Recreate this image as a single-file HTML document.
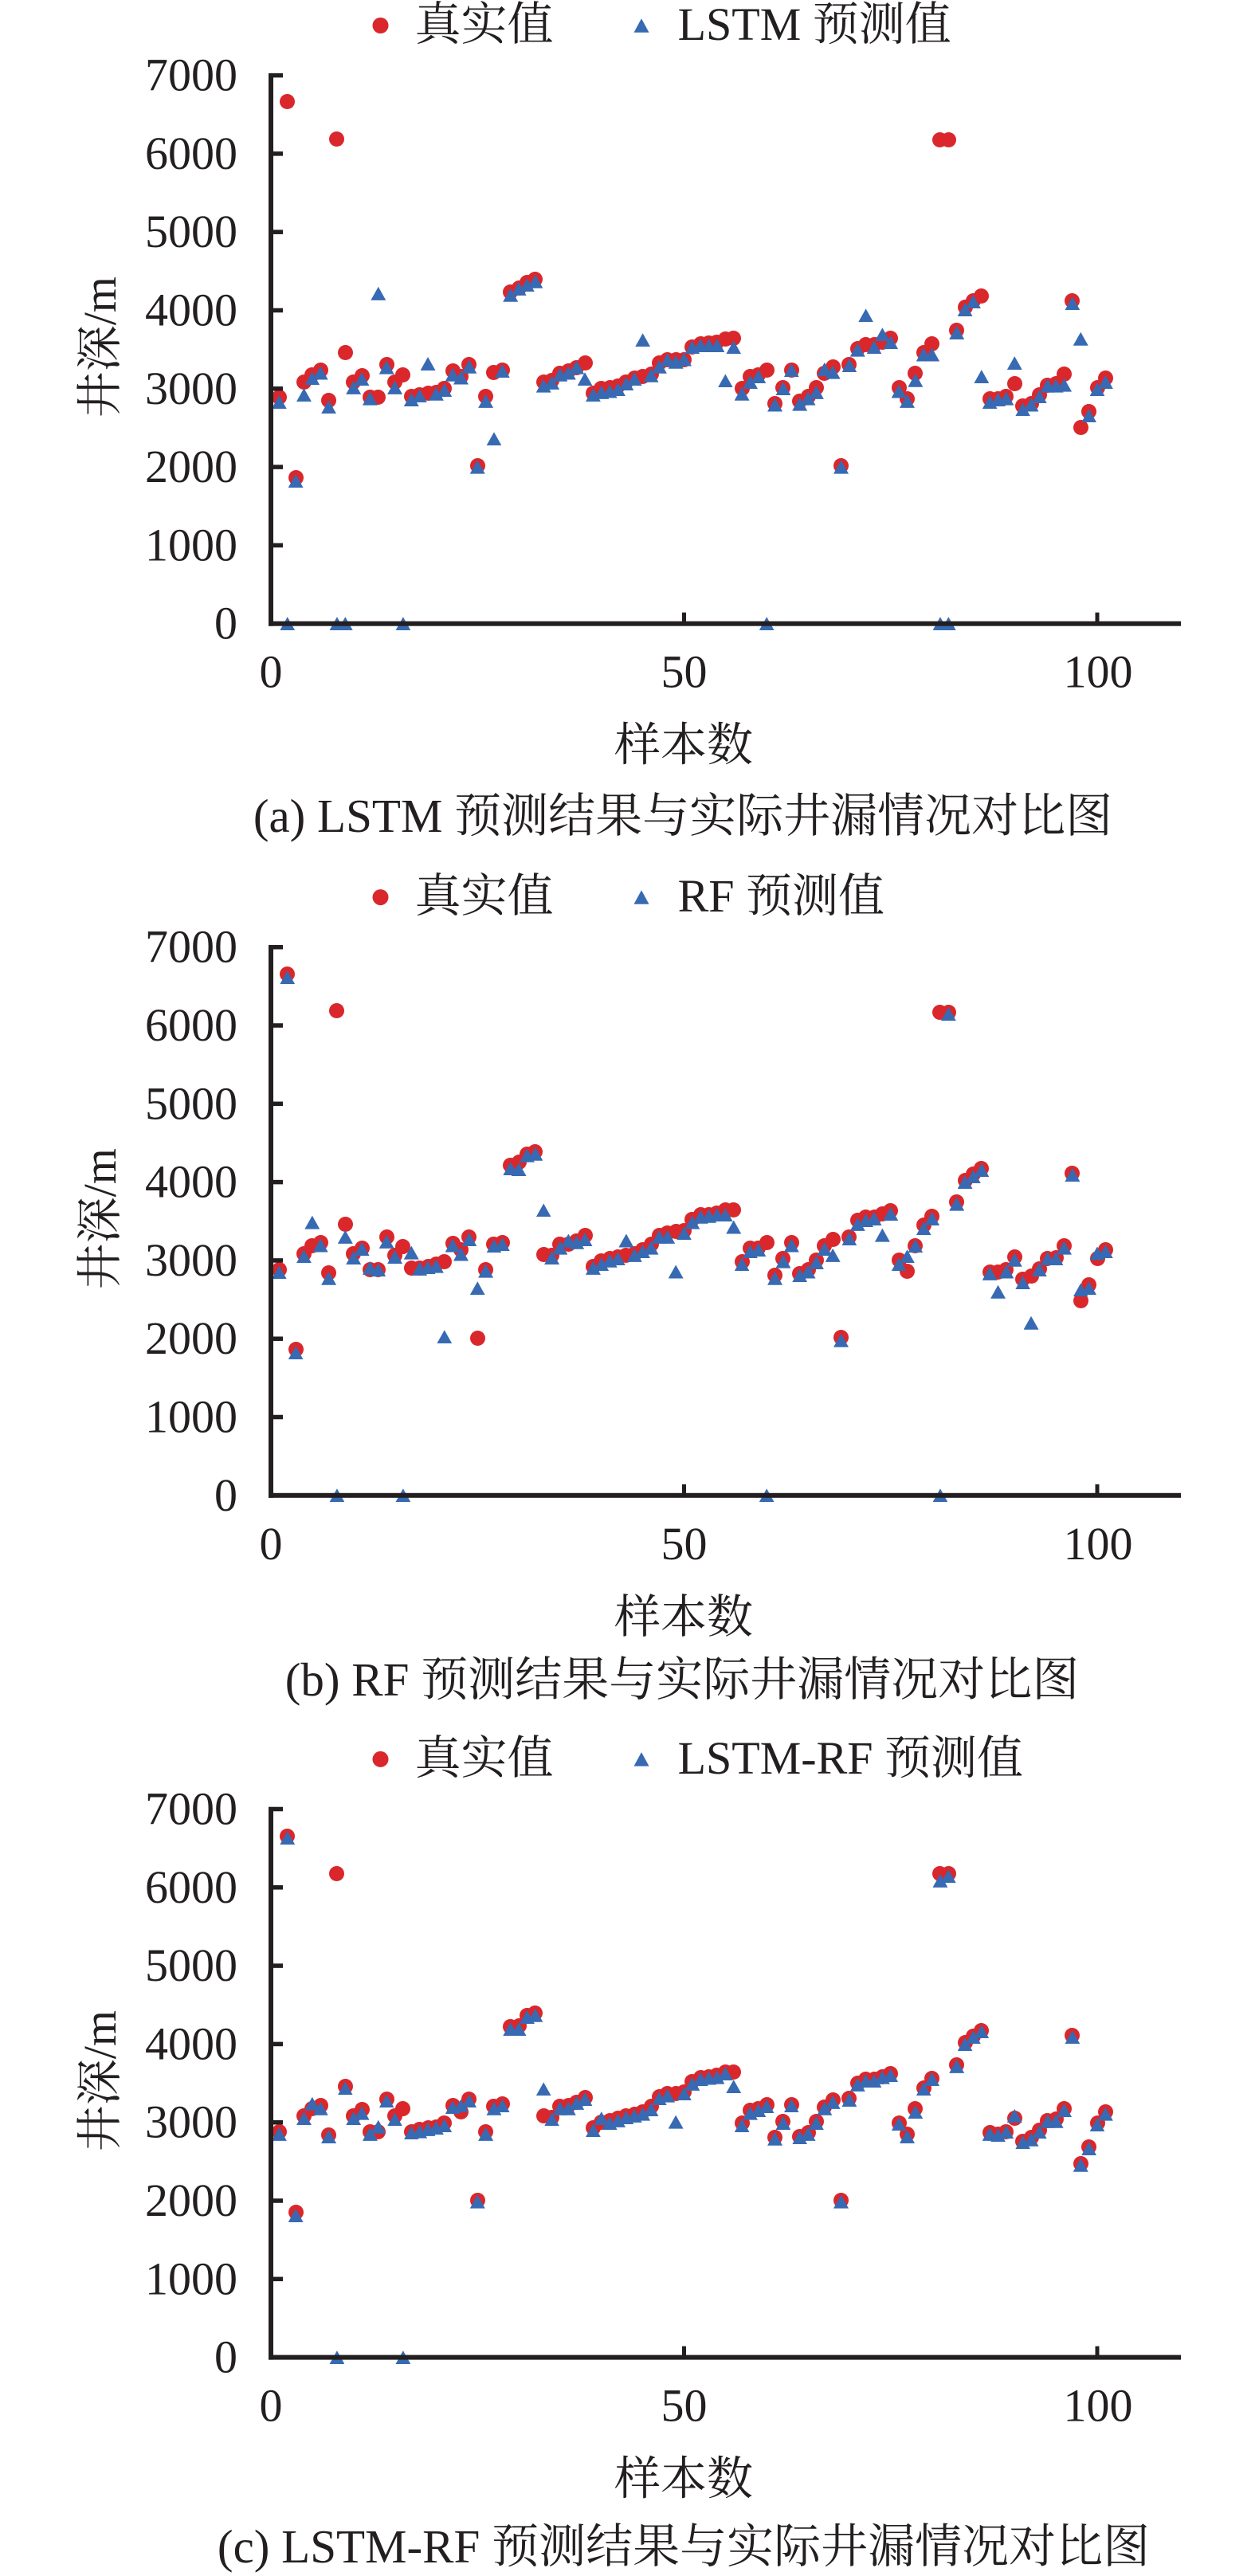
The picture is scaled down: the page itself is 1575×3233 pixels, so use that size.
<!DOCTYPE html>
<html><head><meta charset="utf-8">
<style>
html,body{margin:0;padding:0;background:#fff}
#w{position:relative;width:1575px;height:3233px;overflow:hidden;background:#fff}
.s{position:absolute;left:0;top:0;width:1575px;height:3233px}
.s i{position:absolute;display:block;left:calc(330.5px + var(--i) * 10.37px);top:calc(var(--y) - var(--v) * 0.0983px - 9.5px);width:19px;height:19px}
.r i{background:#d9272c;border-radius:50%}
.b i{background:#376ab3;clip-path:polygon(50% 0,100% 100%,0 100%);height:17px;top:calc(var(--y) - var(--v) * 0.0983px - 8.5px)}
svg{position:absolute;left:0;top:0}
</style></head><body><div id="w">

<div class="s r" style="--y:782.7px">
<i style="--i:1;--v:2888"></i><i style="--i:2;--v:6668"></i><i style="--i:3;--v:1860"></i><i style="--i:4;--v:3084"></i><i style="--i:5;--v:3178"></i><i style="--i:6;--v:3234"></i><i style="--i:7;--v:2850"></i><i style="--i:8;--v:6192"></i><i style="--i:9;--v:3458"></i><i style="--i:10;--v:3084"></i><i style="--i:11;--v:3164"></i><i style="--i:12;--v:2888"></i><i style="--i:13;--v:2888"></i><i style="--i:14;--v:3308"></i><i style="--i:15;--v:3084"></i><i style="--i:16;--v:3178"></i><i style="--i:17;--v:2897"></i><i style="--i:18;--v:2920"></i><i style="--i:19;--v:2944"></i><i style="--i:20;--v:2953"></i><i style="--i:21;--v:3000"></i><i style="--i:22;--v:3224"></i><i style="--i:23;--v:3154"></i><i style="--i:24;--v:3308"></i><i style="--i:25;--v:2019"></i><i style="--i:26;--v:2897"></i><i style="--i:27;--v:3210"></i><i style="--i:28;--v:3234"></i><i style="--i:29;--v:4229"></i><i style="--i:30;--v:4285"></i><i style="--i:31;--v:4360"></i><i style="--i:32;--v:4393"></i><i style="--i:33;--v:3084"></i><i style="--i:34;--v:3107"></i><i style="--i:35;--v:3201"></i><i style="--i:36;--v:3224"></i><i style="--i:37;--v:3271"></i><i style="--i:38;--v:3327"></i><i style="--i:39;--v:2944"></i><i style="--i:40;--v:3000"></i><i style="--i:41;--v:3014"></i><i style="--i:42;--v:3037"></i><i style="--i:43;--v:3084"></i><i style="--i:44;--v:3131"></i><i style="--i:45;--v:3154"></i><i style="--i:46;--v:3187"></i><i style="--i:47;--v:3327"></i><i style="--i:48;--v:3374"></i><i style="--i:49;--v:3365"></i><i style="--i:50;--v:3374"></i><i style="--i:51;--v:3528"></i><i style="--i:52;--v:3575"></i><i style="--i:53;--v:3584"></i><i style="--i:54;--v:3589"></i><i style="--i:55;--v:3636"></i><i style="--i:56;--v:3645"></i><i style="--i:57;--v:3000"></i><i style="--i:58;--v:3154"></i><i style="--i:59;--v:3178"></i><i style="--i:60;--v:3234"></i><i style="--i:61;--v:2813"></i><i style="--i:62;--v:3014"></i><i style="--i:63;--v:3234"></i><i style="--i:64;--v:2841"></i><i style="--i:65;--v:2897"></i><i style="--i:66;--v:3014"></i><i style="--i:67;--v:3201"></i><i style="--i:68;--v:3280"></i><i style="--i:69;--v:2019"></i><i style="--i:70;--v:3308"></i><i style="--i:71;--v:3514"></i><i style="--i:72;--v:3561"></i><i style="--i:73;--v:3561"></i><i style="--i:74;--v:3598"></i><i style="--i:75;--v:3645"></i><i style="--i:76;--v:3014"></i><i style="--i:77;--v:2874"></i><i style="--i:78;--v:3201"></i><i style="--i:79;--v:3458"></i><i style="--i:80;--v:3575"></i><i style="--i:81;--v:6182"></i><i style="--i:82;--v:6182"></i><i style="--i:83;--v:3748"></i><i style="--i:84;--v:4042"></i><i style="--i:85;--v:4122"></i><i style="--i:86;--v:4182"></i><i style="--i:87;--v:2874"></i><i style="--i:88;--v:2874"></i><i style="--i:89;--v:2897"></i><i style="--i:90;--v:3061"></i><i style="--i:91;--v:2780"></i><i style="--i:92;--v:2813"></i><i style="--i:93;--v:2920"></i><i style="--i:94;--v:3047"></i><i style="--i:95;--v:3061"></i><i style="--i:96;--v:3187"></i><i style="--i:97;--v:4122"></i><i style="--i:98;--v:2500"></i><i style="--i:99;--v:2710"></i><i style="--i:100;--v:3014"></i><i style="--i:101;--v:3140"></i>
</div>
<div class="s b" style="--y:782.7px">
<i style="--i:1;--v:2827"></i><i style="--i:2;--v:0"></i><i style="--i:3;--v:1822"></i><i style="--i:4;--v:2920"></i><i style="--i:5;--v:3131"></i><i style="--i:6;--v:3201"></i><i style="--i:7;--v:2766"></i><i style="--i:8;--v:0"></i><i style="--i:9;--v:0"></i><i style="--i:10;--v:3014"></i><i style="--i:11;--v:3122"></i><i style="--i:12;--v:2874"></i><i style="--i:13;--v:4215"></i><i style="--i:14;--v:3271"></i><i style="--i:15;--v:3014"></i><i style="--i:16;--v:0"></i><i style="--i:17;--v:2860"></i><i style="--i:18;--v:2907"></i><i style="--i:19;--v:3318"></i><i style="--i:20;--v:2935"></i><i style="--i:21;--v:2981"></i><i style="--i:22;--v:3178"></i><i style="--i:23;--v:3140"></i><i style="--i:24;--v:3280"></i><i style="--i:25;--v:2000"></i><i style="--i:26;--v:2841"></i><i style="--i:27;--v:2360"></i><i style="--i:28;--v:3224"></i><i style="--i:29;--v:4196"></i><i style="--i:30;--v:4276"></i><i style="--i:31;--v:4322"></i><i style="--i:32;--v:4369"></i><i style="--i:33;--v:3037"></i><i style="--i:34;--v:3075"></i><i style="--i:35;--v:3178"></i><i style="--i:36;--v:3201"></i><i style="--i:37;--v:3271"></i><i style="--i:38;--v:3122"></i><i style="--i:39;--v:2920"></i><i style="--i:40;--v:2953"></i><i style="--i:41;--v:2967"></i><i style="--i:42;--v:2990"></i><i style="--i:43;--v:3061"></i><i style="--i:44;--v:3122"></i><i style="--i:45;--v:3621"></i><i style="--i:46;--v:3168"></i><i style="--i:47;--v:3280"></i><i style="--i:48;--v:3365"></i><i style="--i:49;--v:3341"></i><i style="--i:50;--v:3374"></i><i style="--i:51;--v:3528"></i><i style="--i:52;--v:3551"></i><i style="--i:53;--v:3551"></i><i style="--i:54;--v:3551"></i><i style="--i:55;--v:3100"></i><i style="--i:56;--v:3528"></i><i style="--i:57;--v:2935"></i><i style="--i:58;--v:3084"></i><i style="--i:59;--v:3154"></i><i style="--i:60;--v:0"></i><i style="--i:61;--v:2794"></i><i style="--i:62;--v:3000"></i><i style="--i:63;--v:3234"></i><i style="--i:64;--v:2804"></i><i style="--i:65;--v:2874"></i><i style="--i:66;--v:2953"></i><i style="--i:67;--v:3248"></i><i style="--i:68;--v:3210"></i><i style="--i:69;--v:2000"></i><i style="--i:70;--v:3294"></i><i style="--i:71;--v:3495"></i><i style="--i:72;--v:3935"></i><i style="--i:73;--v:3528"></i><i style="--i:74;--v:3692"></i><i style="--i:75;--v:3589"></i><i style="--i:76;--v:2967"></i><i style="--i:77;--v:2841"></i><i style="--i:78;--v:3107"></i><i style="--i:79;--v:3435"></i><i style="--i:80;--v:3435"></i><i style="--i:81;--v:0"></i><i style="--i:82;--v:0"></i><i style="--i:83;--v:3715"></i><i style="--i:84;--v:4009"></i><i style="--i:85;--v:4112"></i><i style="--i:86;--v:3154"></i><i style="--i:87;--v:2827"></i><i style="--i:88;--v:2860"></i><i style="--i:89;--v:2874"></i><i style="--i:90;--v:3327"></i><i style="--i:91;--v:2734"></i><i style="--i:92;--v:2794"></i><i style="--i:93;--v:2897"></i><i style="--i:94;--v:3037"></i><i style="--i:95;--v:3037"></i><i style="--i:96;--v:3047"></i><i style="--i:97;--v:4089"></i><i style="--i:98;--v:3636"></i><i style="--i:99;--v:2654"></i><i style="--i:100;--v:2990"></i><i style="--i:101;--v:3084"></i>
</div>

<div class="s r" style="--y:1876.8px">
<i style="--i:1;--v:2880"></i><i style="--i:2;--v:6660"></i><i style="--i:3;--v:1862"></i><i style="--i:4;--v:3090"></i><i style="--i:5;--v:3183"></i><i style="--i:6;--v:3230"></i><i style="--i:7;--v:2842"></i><i style="--i:8;--v:6184"></i><i style="--i:9;--v:3463"></i><i style="--i:10;--v:3090"></i><i style="--i:11;--v:3160"></i><i style="--i:12;--v:2880"></i><i style="--i:13;--v:2880"></i><i style="--i:14;--v:3300"></i><i style="--i:15;--v:3066"></i><i style="--i:16;--v:3174"></i><i style="--i:17;--v:2903"></i><i style="--i:18;--v:2903"></i><i style="--i:19;--v:2926"></i><i style="--i:20;--v:2950"></i><i style="--i:21;--v:2987"></i><i style="--i:22;--v:3220"></i><i style="--i:23;--v:3136"></i><i style="--i:24;--v:3300"></i><i style="--i:25;--v:2007"></i><i style="--i:26;--v:2880"></i><i style="--i:27;--v:3206"></i><i style="--i:28;--v:3230"></i><i style="--i:29;--v:4210"></i><i style="--i:30;--v:4256"></i><i style="--i:31;--v:4359"></i><i style="--i:32;--v:4387"></i><i style="--i:33;--v:3080"></i><i style="--i:34;--v:3066"></i><i style="--i:35;--v:3206"></i><i style="--i:36;--v:3206"></i><i style="--i:37;--v:3253"></i><i style="--i:38;--v:3323"></i><i style="--i:39;--v:2926"></i><i style="--i:40;--v:2996"></i><i style="--i:41;--v:3020"></i><i style="--i:42;--v:3043"></i><i style="--i:43;--v:3066"></i><i style="--i:44;--v:3090"></i><i style="--i:45;--v:3136"></i><i style="--i:46;--v:3206"></i><i style="--i:47;--v:3323"></i><i style="--i:48;--v:3346"></i><i style="--i:49;--v:3370"></i><i style="--i:50;--v:3379"></i><i style="--i:51;--v:3519"></i><i style="--i:52;--v:3580"></i><i style="--i:53;--v:3589"></i><i style="--i:54;--v:3603"></i><i style="--i:55;--v:3640"></i><i style="--i:56;--v:3640"></i><i style="--i:57;--v:2987"></i><i style="--i:58;--v:3160"></i><i style="--i:59;--v:3160"></i><i style="--i:60;--v:3230"></i><i style="--i:61;--v:2810"></i><i style="--i:62;--v:3020"></i><i style="--i:63;--v:3230"></i><i style="--i:64;--v:2833"></i><i style="--i:65;--v:2880"></i><i style="--i:66;--v:3006"></i><i style="--i:67;--v:3192"></i><i style="--i:68;--v:3267"></i><i style="--i:69;--v:2016"></i><i style="--i:70;--v:3300"></i><i style="--i:71;--v:3510"></i><i style="--i:72;--v:3556"></i><i style="--i:73;--v:3556"></i><i style="--i:74;--v:3594"></i><i style="--i:75;--v:3636"></i><i style="--i:76;--v:3006"></i><i style="--i:77;--v:2866"></i><i style="--i:78;--v:3183"></i><i style="--i:79;--v:3453"></i><i style="--i:80;--v:3566"></i><i style="--i:81;--v:6170"></i><i style="--i:82;--v:6170"></i><i style="--i:83;--v:3743"></i><i style="--i:84;--v:4023"></i><i style="--i:85;--v:4107"></i><i style="--i:86;--v:4172"></i><i style="--i:87;--v:2856"></i><i style="--i:88;--v:2856"></i><i style="--i:89;--v:2880"></i><i style="--i:90;--v:3043"></i><i style="--i:91;--v:2763"></i><i style="--i:92;--v:2800"></i><i style="--i:93;--v:2894"></i><i style="--i:94;--v:3020"></i><i style="--i:95;--v:3034"></i><i style="--i:96;--v:3183"></i><i style="--i:97;--v:4116"></i><i style="--i:98;--v:2483"></i><i style="--i:99;--v:2693"></i><i style="--i:100;--v:3020"></i><i style="--i:101;--v:3136"></i>
</div>
<div class="s b" style="--y:1876.8px">
<i style="--i:1;--v:2847"></i><i style="--i:2;--v:6613"></i><i style="--i:3;--v:1820"></i><i style="--i:4;--v:3052"></i><i style="--i:5;--v:3486"></i><i style="--i:6;--v:3192"></i><i style="--i:7;--v:2773"></i><i style="--i:8;--v:0"></i><i style="--i:9;--v:3300"></i><i style="--i:10;--v:3034"></i><i style="--i:11;--v:3146"></i><i style="--i:12;--v:2903"></i><i style="--i:13;--v:2880"></i><i style="--i:14;--v:3239"></i><i style="--i:15;--v:3043"></i><i style="--i:16;--v:0"></i><i style="--i:17;--v:3099"></i><i style="--i:18;--v:2893"></i><i style="--i:19;--v:2912"></i><i style="--i:20;--v:2926"></i><i style="--i:21;--v:2025"></i><i style="--i:22;--v:3192"></i><i style="--i:23;--v:3080"></i><i style="--i:24;--v:3267"></i><i style="--i:25;--v:2646"></i><i style="--i:26;--v:2866"></i><i style="--i:27;--v:3183"></i><i style="--i:28;--v:3206"></i><i style="--i:29;--v:4172"></i><i style="--i:30;--v:4163"></i><i style="--i:31;--v:4340"></i><i style="--i:32;--v:4359"></i><i style="--i:33;--v:3640"></i><i style="--i:34;--v:3034"></i><i style="--i:35;--v:3160"></i><i style="--i:36;--v:3253"></i><i style="--i:37;--v:3230"></i><i style="--i:38;--v:3267"></i><i style="--i:39;--v:2903"></i><i style="--i:40;--v:2950"></i><i style="--i:41;--v:2996"></i><i style="--i:42;--v:3020"></i><i style="--i:43;--v:3253"></i><i style="--i:44;--v:3066"></i><i style="--i:45;--v:3113"></i><i style="--i:46;--v:3160"></i><i style="--i:47;--v:3300"></i><i style="--i:48;--v:3300"></i><i style="--i:49;--v:2856"></i><i style="--i:50;--v:3346"></i><i style="--i:51;--v:3486"></i><i style="--i:52;--v:3556"></i><i style="--i:53;--v:3566"></i><i style="--i:54;--v:3580"></i><i style="--i:55;--v:3580"></i><i style="--i:56;--v:3426"></i><i style="--i:57;--v:2950"></i><i style="--i:58;--v:3113"></i><i style="--i:59;--v:3136"></i><i style="--i:60;--v:0"></i><i style="--i:61;--v:2773"></i><i style="--i:62;--v:2987"></i><i style="--i:63;--v:3192"></i><i style="--i:64;--v:2810"></i><i style="--i:65;--v:2856"></i><i style="--i:66;--v:2973"></i><i style="--i:67;--v:3146"></i><i style="--i:68;--v:3066"></i><i style="--i:69;--v:1979"></i><i style="--i:70;--v:3276"></i><i style="--i:71;--v:3463"></i><i style="--i:72;--v:3510"></i><i style="--i:73;--v:3533"></i><i style="--i:74;--v:3323"></i><i style="--i:75;--v:3594"></i><i style="--i:76;--v:2950"></i><i style="--i:77;--v:3052"></i><i style="--i:78;--v:3183"></i><i style="--i:79;--v:3407"></i><i style="--i:80;--v:3533"></i><i style="--i:81;--v:0"></i><i style="--i:82;--v:6146"></i><i style="--i:83;--v:3720"></i><i style="--i:84;--v:4000"></i><i style="--i:85;--v:4070"></i><i style="--i:86;--v:4154"></i><i style="--i:87;--v:2833"></i><i style="--i:88;--v:2600"></i><i style="--i:89;--v:2856"></i><i style="--i:90;--v:3006"></i><i style="--i:91;--v:2716"></i><i style="--i:92;--v:2203"></i><i style="--i:93;--v:2880"></i><i style="--i:94;--v:3020"></i><i style="--i:95;--v:3020"></i><i style="--i:96;--v:3160"></i><i style="--i:97;--v:4093"></i><i style="--i:98;--v:2623"></i><i style="--i:99;--v:2646"></i><i style="--i:100;--v:3090"></i><i style="--i:101;--v:3113"></i>
</div>

<div class="s r" style="--y:2958.6px">
<i style="--i:1;--v:2884"></i><i style="--i:2;--v:6655"></i><i style="--i:3;--v:1857"></i><i style="--i:4;--v:3085"></i><i style="--i:5;--v:3178"></i><i style="--i:6;--v:3211"></i><i style="--i:7;--v:2837"></i><i style="--i:8;--v:6179"></i><i style="--i:9;--v:3458"></i><i style="--i:10;--v:3085"></i><i style="--i:11;--v:3164"></i><i style="--i:12;--v:2884"></i><i style="--i:13;--v:2884"></i><i style="--i:14;--v:3295"></i><i style="--i:15;--v:3085"></i><i style="--i:16;--v:3178"></i><i style="--i:17;--v:2884"></i><i style="--i:18;--v:2912"></i><i style="--i:19;--v:2931"></i><i style="--i:20;--v:2945"></i><i style="--i:21;--v:2991"></i><i style="--i:22;--v:3211"></i><i style="--i:23;--v:3132"></i><i style="--i:24;--v:3295"></i><i style="--i:25;--v:2010"></i><i style="--i:26;--v:2884"></i><i style="--i:27;--v:3202"></i><i style="--i:28;--v:3234"></i><i style="--i:29;--v:4219"></i><i style="--i:30;--v:4238"></i><i style="--i:31;--v:4368"></i><i style="--i:32;--v:4392"></i><i style="--i:33;--v:3085"></i><i style="--i:34;--v:3062"></i><i style="--i:35;--v:3202"></i><i style="--i:36;--v:3211"></i><i style="--i:37;--v:3258"></i><i style="--i:38;--v:3318"></i><i style="--i:39;--v:2931"></i><i style="--i:40;--v:3006"></i><i style="--i:41;--v:3024"></i><i style="--i:42;--v:3052"></i><i style="--i:43;--v:3085"></i><i style="--i:44;--v:3108"></i><i style="--i:45;--v:3132"></i><i style="--i:46;--v:3202"></i><i style="--i:47;--v:3332"></i><i style="--i:48;--v:3365"></i><i style="--i:49;--v:3365"></i><i style="--i:50;--v:3388"></i><i style="--i:51;--v:3519"></i><i style="--i:52;--v:3575"></i><i style="--i:53;--v:3584"></i><i style="--i:54;--v:3598"></i><i style="--i:55;--v:3645"></i><i style="--i:56;--v:3645"></i><i style="--i:57;--v:2991"></i><i style="--i:58;--v:3155"></i><i style="--i:59;--v:3178"></i><i style="--i:60;--v:3225"></i><i style="--i:61;--v:2805"></i><i style="--i:62;--v:3015"></i><i style="--i:63;--v:3225"></i><i style="--i:64;--v:2819"></i><i style="--i:65;--v:2865"></i><i style="--i:66;--v:3015"></i><i style="--i:67;--v:3192"></i><i style="--i:68;--v:3286"></i><i style="--i:69;--v:2010"></i><i style="--i:70;--v:3304"></i><i style="--i:71;--v:3505"></i><i style="--i:72;--v:3552"></i><i style="--i:73;--v:3552"></i><i style="--i:74;--v:3584"></i><i style="--i:75;--v:3622"></i><i style="--i:76;--v:2991"></i><i style="--i:77;--v:2851"></i><i style="--i:78;--v:3178"></i><i style="--i:79;--v:3444"></i><i style="--i:80;--v:3566"></i><i style="--i:81;--v:6179"></i><i style="--i:82;--v:6179"></i><i style="--i:83;--v:3738"></i><i style="--i:84;--v:4018"></i><i style="--i:85;--v:4098"></i><i style="--i:86;--v:4172"></i><i style="--i:87;--v:2865"></i><i style="--i:88;--v:2851"></i><i style="--i:89;--v:2884"></i><i style="--i:90;--v:3052"></i><i style="--i:91;--v:2758"></i><i style="--i:92;--v:2805"></i><i style="--i:93;--v:2898"></i><i style="--i:94;--v:3024"></i><i style="--i:95;--v:3038"></i><i style="--i:96;--v:3178"></i><i style="--i:97;--v:4112"></i><i style="--i:98;--v:2478"></i><i style="--i:99;--v:2688"></i><i style="--i:100;--v:2991"></i><i style="--i:101;--v:3132"></i>
</div>
<div class="s b" style="--y:2958.6px">
<i style="--i:1;--v:2851"></i><i style="--i:2;--v:6632"></i><i style="--i:3;--v:1811"></i><i style="--i:4;--v:3052"></i><i style="--i:5;--v:3239"></i><i style="--i:6;--v:3178"></i><i style="--i:7;--v:2819"></i><i style="--i:8;--v:0"></i><i style="--i:9;--v:3435"></i><i style="--i:10;--v:3052"></i><i style="--i:11;--v:3118"></i><i style="--i:12;--v:2851"></i><i style="--i:13;--v:2944"></i><i style="--i:14;--v:3272"></i><i style="--i:15;--v:3038"></i><i style="--i:16;--v:0"></i><i style="--i:17;--v:2865"></i><i style="--i:18;--v:2884"></i><i style="--i:19;--v:2912"></i><i style="--i:20;--v:2931"></i><i style="--i:21;--v:2959"></i><i style="--i:22;--v:3192"></i><i style="--i:23;--v:3211"></i><i style="--i:24;--v:3272"></i><i style="--i:25;--v:1988"></i><i style="--i:26;--v:2851"></i><i style="--i:27;--v:3178"></i><i style="--i:28;--v:3211"></i><i style="--i:29;--v:4191"></i><i style="--i:30;--v:4191"></i><i style="--i:31;--v:4345"></i><i style="--i:32;--v:4368"></i><i style="--i:33;--v:3426"></i><i style="--i:34;--v:3038"></i><i style="--i:35;--v:3178"></i><i style="--i:36;--v:3178"></i><i style="--i:37;--v:3248"></i><i style="--i:38;--v:3295"></i><i style="--i:39;--v:2898"></i><i style="--i:40;--v:3052"></i><i style="--i:41;--v:2991"></i><i style="--i:42;--v:3024"></i><i style="--i:43;--v:3062"></i><i style="--i:44;--v:3085"></i><i style="--i:45;--v:3108"></i><i style="--i:46;--v:3164"></i><i style="--i:47;--v:3304"></i><i style="--i:48;--v:3342"></i><i style="--i:49;--v:3006"></i><i style="--i:50;--v:3365"></i><i style="--i:51;--v:3491"></i><i style="--i:52;--v:3552"></i><i style="--i:53;--v:3566"></i><i style="--i:54;--v:3575"></i><i style="--i:55;--v:3622"></i><i style="--i:56;--v:3458"></i><i style="--i:57;--v:2959"></i><i style="--i:58;--v:3118"></i><i style="--i:59;--v:3155"></i><i style="--i:60;--v:3202"></i><i style="--i:61;--v:2791"></i><i style="--i:62;--v:2991"></i><i style="--i:63;--v:3211"></i><i style="--i:64;--v:2805"></i><i style="--i:65;--v:2851"></i><i style="--i:66;--v:2991"></i><i style="--i:67;--v:3178"></i><i style="--i:68;--v:3258"></i><i style="--i:69;--v:1988"></i><i style="--i:70;--v:3286"></i><i style="--i:71;--v:3482"></i><i style="--i:72;--v:3528"></i><i style="--i:73;--v:3528"></i><i style="--i:74;--v:3575"></i><i style="--i:75;--v:3598"></i><i style="--i:76;--v:2977"></i><i style="--i:77;--v:2819"></i><i style="--i:78;--v:3132"></i><i style="--i:79;--v:3426"></i><i style="--i:80;--v:3552"></i><i style="--i:81;--v:6086"></i><i style="--i:82;--v:6142"></i><i style="--i:83;--v:3715"></i><i style="--i:84;--v:3995"></i><i style="--i:85;--v:4088"></i><i style="--i:86;--v:4158"></i><i style="--i:87;--v:2851"></i><i style="--i:88;--v:2837"></i><i style="--i:89;--v:2875"></i><i style="--i:90;--v:3085"></i><i style="--i:91;--v:2744"></i><i style="--i:92;--v:2781"></i><i style="--i:93;--v:2875"></i><i style="--i:94;--v:3015"></i><i style="--i:95;--v:3015"></i><i style="--i:96;--v:3155"></i><i style="--i:97;--v:4088"></i><i style="--i:98;--v:2455"></i><i style="--i:99;--v:2665"></i><i style="--i:100;--v:2968"></i><i style="--i:101;--v:3108"></i>
</div>

<svg width="1575" height="3233" viewBox="0 0 1575 3233" xmlns="http://www.w3.org/2000/svg">
<defs>
<g id="ax" fill="#231f20">
<rect x="337" y="-690.7" width="6" height="693.7"/>
<rect x="337" y="-3" width="1145" height="6"/>
<rect x="337" y="-101.05" width="18" height="5.5"/>
<rect x="337" y="-199.35" width="18" height="5.5"/>
<rect x="337" y="-297.65" width="18" height="5.5"/>
<rect x="337" y="-395.95" width="18" height="5.5"/>
<rect x="337" y="-494.25" width="18" height="5.5"/>
<rect x="337" y="-592.55" width="18" height="5.5"/>
<rect x="337" y="-690.85" width="18" height="5.5"/>
<rect x="856" y="-14" width="5" height="14"/>
<rect x="1374.5" y="-14" width="5" height="14"/>
</g>
<g id="lb" font-size="58">
<g text-anchor="end">
<text x="298" y="19">0</text>
<text x="298" y="-79.3">1000</text>
<text x="298" y="-177.6">2000</text>
<text x="298" y="-275.9">3000</text>
<text x="298" y="-374.2">4000</text>
<text x="298" y="-472.5">5000</text>
<text x="298" y="-570.8">6000</text>
<text x="298" y="-669.1">7000</text>
</g>
<g text-anchor="middle">
<text x="340" y="80">0</text>
<text x="858.5" y="80">50</text>
<text x="1378" y="80">100</text>
<text x="858" y="172">样本数</text>
<text transform="translate(145,-347) rotate(-90)">井深/m</text>
</g>
<circle cx="477.5" cy="-750.7" r="10" fill="#d9272c"/>
<text x="520.5" y="-732.7">真实值</text>
<polygon points="805,-759.5 814.5,-742 795.5,-742" fill="#376ab3"/>
</g>
</defs>
<g font-family="'Liberation Serif','Noto Serif CJK SC','Noto Serif CJK JP',serif" fill="#231f20">
<g transform="translate(0,782.7)">
<use href="#ax"/><use href="#lb"/>
<text x="850.6" y="-732.7" font-size="58">LSTM 预测值</text>
</g>
<text x="857" y="1044" font-size="59" text-anchor="middle">(a) LSTM 预测结果与实际井漏情况对比图</text>

<g transform="translate(0,1876.8)">
<use href="#ax"/><use href="#lb"/>
<text x="850.6" y="-732.7" font-size="58">RF 预测值</text>
</g>
<text x="856" y="2128" font-size="59" text-anchor="middle">(b) RF 预测结果与实际井漏情况对比图</text>

<g transform="translate(0,2958.6)">
<use href="#ax"/><use href="#lb"/>
<text x="850.6" y="-732.7" font-size="58">LSTM-RF 预测值</text>
</g>
<text x="858" y="3216" font-size="59" text-anchor="middle">(c) LSTM-RF 预测结果与实际井漏情况对比图</text>
</g>
</svg>
</div></body></html>
